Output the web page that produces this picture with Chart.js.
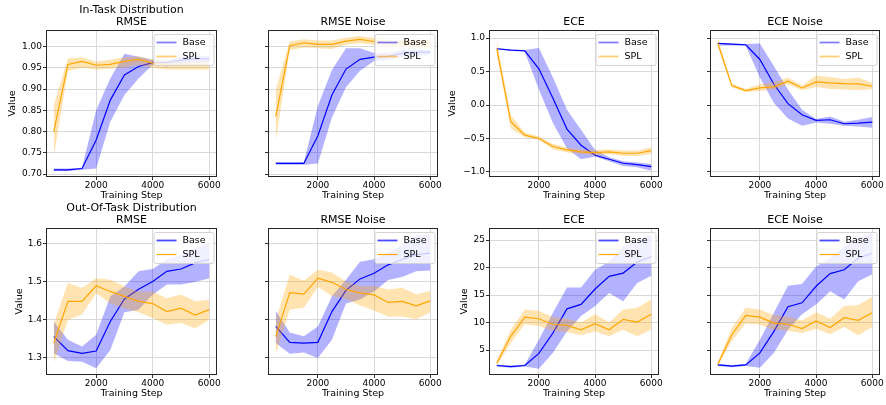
<!DOCTYPE html>
<html>
<head>
<meta charset="utf-8">
<script src="https://cdn.jsdelivr.net/npm/chart.js@4.4.1/dist/chart.umd.min.js"></script>
<style>
  html, body { margin: 0; padding: 0; background: #fff; overflow: hidden; }
  #wrap { position: relative; width: 886px; height: 405px; }
  #wrap canvas { position: absolute; }
</style>
</head>
<body>
<div id="wrap"></div>
<script>
// training steps (x) and tick labels
var steps = [500, 1000, 1500, 2000, 2500, 3000, 3500, 4000, 4500, 5000, 5500, 6000];
var xTicks = [2000, 4000, 6000];
var inRmseTicks = [0.70, 0.75, 0.80, 0.85, 0.90, 0.95, 1.00];
var inEceTicks = [-1.0, -0.5, 0.0, 0.5, 1.0];
var outRmseTicks = [1.3, 1.4, 1.5, 1.6];
var outEceTicks = [5, 10, 15, 20, 25];

// In-Task RMSE
var inRmseBase   = [0.710, 0.710, 0.713, 0.780, 0.874, 0.933, 0.953, 0.962, 0.962, 0.968, 0.971, 0.971];
var inRmseBaseLo = [0.707, 0.707, 0.710, 0.713, 0.823, 0.886, 0.925, 0.957, 0.953, 0.958, 0.962, 0.962];
var inRmseBaseHi = [0.713, 0.713, 0.715, 0.850, 0.925, 0.983, 0.976, 0.969, 0.967, 0.976, 0.978, 0.978];
var inRmseSpl    = [0.800, 0.958, 0.965, 0.956, 0.958, 0.965, 0.970, 0.961, 0.957, 0.957, 0.957, 0.957];
var inRmseSplLo  = [0.740, 0.943, 0.950, 0.946, 0.948, 0.950, 0.957, 0.950, 0.946, 0.946, 0.946, 0.946];
var inRmseSplHi  = [0.862, 0.972, 0.975, 0.965, 0.969, 0.975, 0.977, 0.969, 0.966, 0.966, 0.966, 0.966];

// In-Task RMSE Noise
var inRmseNBase   = [0.725, 0.725, 0.725, 0.790, 0.886, 0.947, 0.970, 0.975, 0.977, 0.984, 0.987, 0.987];
var inRmseNBaseLo = [0.722, 0.722, 0.722, 0.725, 0.833, 0.904, 0.943, 0.966, 0.968, 0.976, 0.979, 0.980];
var inRmseNBaseHi = [0.728, 0.728, 0.728, 0.860, 0.945, 0.996, 0.996, 0.985, 0.984, 0.992, 0.992, 0.992];
var inRmseNSpl    = [0.835, 1.002, 1.009, 1.005, 1.005, 1.013, 1.017, 1.012, 1.009, 1.009, 1.009, 1.009];
var inRmseNSplLo  = [0.776, 0.992, 0.998, 0.996, 0.994, 1.004, 1.008, 1.004, 0.998, 0.998, 0.998, 0.998];
var inRmseNSplHi  = [0.898, 1.012, 1.017, 1.014, 1.014, 1.021, 1.025, 1.020, 1.016, 1.016, 1.016, 1.016];

// In-Task ECE
var inEceBase   = [0.84, 0.82, 0.81, 0.54, 0.10, -0.36, -0.60, -0.75, -0.81, -0.87, -0.89, -0.92];
var inEceBaseLo = [0.83, 0.81, 0.79, 0.23, -0.27, -0.65, -0.81, -0.77, -0.84, -0.91, -0.93, -0.98];
var inEceBaseHi = [0.85, 0.83, 0.82, 0.85, 0.41, -0.07, -0.37, -0.67, -0.78, -0.84, -0.86, -0.88];
var inEceSpl    = [0.84, -0.25, -0.45, -0.50, -0.62, -0.67, -0.70, -0.71, -0.70, -0.72, -0.72, -0.68];
var inEceSplLo  = [0.76, -0.35, -0.48, -0.52, -0.66, -0.71, -0.73, -0.75, -0.73, -0.76, -0.76, -0.73];
var inEceSplHi  = [0.97, -0.15, -0.41, -0.47, -0.58, -0.64, -0.66, -0.67, -0.66, -0.68, -0.68, -0.63];

// In-Task ECE Noise
var inEceNBase   = [0.92, 0.91, 0.90, 0.68, 0.31, 0.02, -0.145, -0.23, -0.22, -0.28, -0.27, -0.255];
var inEceNBaseLo = [0.89, 0.89, 0.88, 0.41, 0.03, -0.20, -0.31, -0.26, -0.28, -0.31, -0.32, -0.34];
var inEceNBaseHi = [0.93, 0.92, 0.91, 0.92, 0.58, 0.23, -0.07, -0.21, -0.17, -0.25, -0.22, -0.18];
var inEceNSpl    = [0.92, 0.29, 0.215, 0.255, 0.27, 0.355, 0.255, 0.345, 0.33, 0.32, 0.315, 0.28];
var inEceNSplLo  = [0.88, 0.26, 0.19, 0.21, 0.23, 0.31, 0.22, 0.27, 0.24, 0.23, 0.22, 0.24];
var inEceNSplHi  = [1.02, 0.32, 0.24, 0.31, 0.34, 0.41, 0.29, 0.44, 0.42, 0.39, 0.41, 0.33];

// Out-Of-Task RMSE
var outRmseBase   = [1.356, 1.319, 1.312, 1.318, 1.396, 1.455, 1.481, 1.501, 1.528, 1.534, 1.550, 1.559];
var outRmseBaseLo = [1.312, 1.292, 1.290, 1.273, 1.321, 1.420, 1.427, 1.466, 1.493, 1.493, 1.500, 1.510];
var outRmseBaseHi = [1.396, 1.348, 1.330, 1.361, 1.462, 1.488, 1.528, 1.534, 1.559, 1.572, 1.590, 1.603];
var outRmseSpl    = [1.339, 1.449, 1.449, 1.490, 1.475, 1.462, 1.449, 1.443, 1.422, 1.431, 1.413, 1.427];
var outRmseSplLo  = [1.286, 1.400, 1.414, 1.470, 1.444, 1.430, 1.420, 1.405, 1.387, 1.392, 1.378, 1.400];
var outRmseSplHi  = [1.390, 1.497, 1.484, 1.510, 1.506, 1.488, 1.475, 1.475, 1.457, 1.467, 1.449, 1.453];

// Out-Of-Task RMSE Noise
var outRmseNBase   = [1.383, 1.341, 1.339, 1.341, 1.422, 1.478, 1.508, 1.523, 1.545, 1.559, 1.572, 1.576];
var outRmseNBaseLo = [1.339, 1.311, 1.314, 1.300, 1.348, 1.443, 1.454, 1.475, 1.505, 1.513, 1.528, 1.530];
var outRmseNBaseHi = [1.424, 1.367, 1.357, 1.383, 1.462, 1.506, 1.553, 1.560, 1.578, 1.596, 1.622, 1.626];
var outRmseNSpl    = [1.356, 1.472, 1.468, 1.510, 1.499, 1.480, 1.471, 1.466, 1.446, 1.449, 1.437, 1.450];
var outRmseNSplLo  = [1.310, 1.427, 1.432, 1.487, 1.463, 1.455, 1.438, 1.425, 1.409, 1.409, 1.402, 1.420];
var outRmseNSplHi  = [1.400, 1.519, 1.503, 1.532, 1.525, 1.501, 1.489, 1.489, 1.480, 1.485, 1.467, 1.477];

// Out-Of-Task ECE
var outEceBase   = [2.2, 2.0, 2.2, 4.4, 8.1, 12.5, 13.3, 16.1, 18.4, 19.0, 21.0, 22.0];
var outEceBaseLo = [2.0, 1.8, 2.0, 1.6, 4.5, 8.4, 11.2, 13.0, 15.4, 13.9, 17.2, 18.5];
var outEceBaseHi = [2.4, 2.2, 2.4, 6.9, 11.8, 16.4, 16.4, 19.6, 21.1, 23.9, 25.0, 26.0];
var outEceSpl    = [2.6, 7.5, 11.0, 10.7, 9.7, 9.5, 8.7, 9.8, 8.7, 10.6, 10.1, 11.5];
var outEceSplLo  = [2.1, 6.3, 9.7, 9.4, 8.5, 8.3, 7.7, 8.4, 7.5, 8.7, 7.5, 8.7];
var outEceSplHi  = [3.0, 8.7, 12.4, 12.1, 11.0, 10.7, 10.0, 11.5, 10.0, 12.4, 12.7, 14.2];

// Out-Of-Task ECE Noise
var outEceNBase   = [2.3, 2.1, 2.3, 4.5, 8.4, 12.9, 13.6, 16.6, 18.9, 19.6, 21.7, 22.6];
var outEceNBaseLo = [2.1, 1.9, 2.1, 1.8, 4.5, 8.7, 11.5, 13.3, 15.7, 14.2, 17.5, 18.8];
var outEceNBaseHi = [2.5, 2.3, 2.5, 6.9, 11.8, 16.7, 17.0, 20.2, 21.7, 23.9, 25.4, 26.3];
var outEceNSpl    = [2.4, 7.8, 11.3, 11.0, 9.9, 9.7, 8.9, 10.3, 9.1, 10.9, 10.4, 11.8];
var outEceNSplLo  = [2.1, 6.6, 9.9, 9.6, 8.7, 8.5, 8.1, 8.9, 7.9, 9.2, 7.7, 9.2];
var outEceNSplHi  = [2.7, 9.0, 12.7, 12.4, 11.4, 11.1, 10.4, 11.9, 10.7, 13.0, 13.2, 14.7];

Chart.defaults.font.family = "'DejaVu Sans', sans-serif";
Chart.defaults.color = '#000';

function pts(ys) {
  return steps.map(function (s, i) { return { x: s, y: ys[i] }; });
}

function fmt2(v) { return v.toFixed(2); }
function fmt1(v) { return v.toFixed(1).replace('-', '\u2212'); }
function fmt0(v) { return String(v); }

// black box round the plot area
var framePlugin = {
  id: 'frame',
  afterDatasetsDraw: function (chart) {
    var a = chart.chartArea, ctx = chart.ctx;
    ctx.save();
    ctx.strokeStyle = '#262626';
    ctx.lineWidth = 1;
    ctx.strokeRect(Math.round(a.left) + 0.5, Math.round(a.top) + 0.5,
      Math.round(a.right - a.left) - 1, Math.round(a.bottom - a.top) - 1);
    ctx.restore();
  }
};

// legend in the upper right corner of the plot area
var cornerLegend = {
  id: 'cornerLegend',
  afterDraw: function (chart) {
    var a = chart.chartArea, ctx = chart.ctx;
    var w = 60, h = 31;
    var x = a.right - 3.5 - w, y = a.top + 4;
    ctx.save();
    ctx.fillStyle = 'rgba(255,255,255,0.8)';
    ctx.strokeStyle = '#d4d4d4';
    ctx.lineWidth = 1;
    ctx.beginPath();
    ctx.roundRect(x + 0.5, y + 0.5, w, h, 2);
    ctx.fill();
    ctx.stroke();
    var row = 0;
    chart.data.datasets.forEach(function (ds) {
      if (!ds.inLegend) return;
      var ly = y + 8.5 + row * 14;
      ctx.strokeStyle = ds.legendColor;
      ctx.lineWidth = ds.legendWidth;
      ctx.beginPath();
      ctx.moveTo(x + 3, ly);
      ctx.lineTo(x + 23, ly);
      ctx.stroke();
      ctx.fillStyle = '#000';
      ctx.font = "9.5px 'DejaVu Sans', sans-serif";
      ctx.textBaseline = 'middle';
      ctx.fillText(ds.label, x + 29, ly);
      row++;
    });
    ctx.restore();
  }
};

function panel(p) {
  var cv = document.createElement('canvas');
  var w = 46 + p.plotW + 8, h = 207;
  cv.width = w;
  cv.height = h;
  cv.style.left = (p.plotLeft - 46) + 'px';
  cv.style.top = (p.plotTop - 30) + 'px';
  document.getElementById('wrap').appendChild(cv);

  var twoLines = Array.isArray(p.title);
  var topRow = p.plotTop < 100;

  var datasets = [
    { label: 'Base hi', data: pts(p.base[2]), fill: '+1', backgroundColor: 'rgba(0,0,255,0.3)',
      borderColor: 'rgba(0,0,0,0)', borderWidth: 1, pointRadius: 0, order: 4 },
    { label: 'Base lo', data: pts(p.base[1]), fill: false,
      borderColor: 'rgba(0,0,0,0)', borderWidth: 1, pointRadius: 0, order: 4 },
    { label: 'Base', data: pts(p.base[0]), fill: false, borderColor: '#0000ff', borderWidth: 1.2,
      pointRadius: 0, order: 3, inLegend: true,
      legendColor: topRow ? 'rgba(0,0,255,0.5)' : 'rgba(0,0,255,0.7)', legendWidth: 1.8 },
    { label: 'SPL hi', data: pts(p.spl[2]), fill: '+1', backgroundColor: 'rgba(255,165,0,0.3)',
      borderColor: 'rgba(0,0,0,0)', borderWidth: 1, pointRadius: 0, order: 2 },
    { label: 'SPL lo', data: pts(p.spl[1]), fill: false,
      borderColor: 'rgba(0,0,0,0)', borderWidth: 1, pointRadius: 0, order: 2 },
    { label: 'SPL', data: pts(p.spl[0]), fill: false, borderColor: '#ffa500', borderWidth: 1.2,
      pointRadius: 0, order: 1, inLegend: true,
      legendColor: topRow ? 'rgba(255,165,0,0.55)' : '#ffa500', legendWidth: topRow ? 1.8 : 1.2 }
  ];

  return new Chart(cv, {
    type: 'line',
    data: { datasets: datasets },
    plugins: [framePlugin, cornerLegend],
    options: {
      responsive: false,
      animation: false,
      devicePixelRatio: 1,
      layout: { padding: { left: 0, top: 0, right: 8, bottom: 0 } },
      elements: { line: { tension: 0 } },
      plugins: {
        legend: { display: false },
        tooltip: { enabled: false },
        title: {
          display: true,
          fullSize: false,
          text: p.title,
          color: '#000',
          font: { size: 11, weight: 'normal', lineHeight: 1.1 },
          padding: { top: twoLines ? 4 : 16, bottom: twoLines ? 1.8 : 1.9 }
        }
      },
      scales: {
        x: {
          type: 'linear',
          min: 225,
          max: 6275,
          afterBuildTicks: function (s) { s.ticks = xTicks.map(function (v) { return { value: v }; }); },
          afterFit: function (s) { s.height = 30; },
          border: { display: false },
          grid: { color: '#d9d9d9', lineWidth: 1, tickLength: 3, tickColor: '#333', tickWidth: 1 },
          ticks: { font: { size: 9 }, color: '#000', padding: 0, maxRotation: 0, autoSkip: false,
            callback: function (v) { return String(v); } },
          title: { display: true, text: 'Training Step', color: '#000', font: { size: 9.5 },
            padding: { top: 0, bottom: 5.3 } }
        },
        y: {
          min: p.yMin,
          max: p.yMax,
          afterBuildTicks: function (s) { s.ticks = p.yTicks.map(function (v) { return { value: v }; }); },
          afterFit: function (s) { s.width = 46; },
          border: { display: false },
          grid: { color: '#d9d9d9', lineWidth: 1, tickLength: 3, tickColor: '#333', tickWidth: 1 },
          ticks: { font: { size: 9 }, color: p.showY ? '#000' : 'rgba(0,0,0,0)', padding: 1,
            callback: p.fmt },
          title: { display: p.showY, text: 'Value', color: '#000', font: { size: 9.5 },
            padding: { top: p.yPad || 0, bottom: 0 } }
        }
      }
    }
  });
}

var colLeft = [46, 268, 489, 710];
var colWidth = [171, 170, 170, 170];

panel({ plotLeft: colLeft[0], plotW: colWidth[0], plotTop: 30, title: ['In-Task Distribution', 'RMSE'],
  yMin: 0.693, yMax: 1.039, yTicks: inRmseTicks, fmt: fmt2, showY: true, yPad: 7.3,
  base: [inRmseBase, inRmseBaseLo, inRmseBaseHi], spl: [inRmseSpl, inRmseSplLo, inRmseSplHi] });
panel({ plotLeft: colLeft[1], plotW: colWidth[1], plotTop: 30, title: 'RMSE Noise',
  yMin: 0.693, yMax: 1.039, yTicks: inRmseTicks, fmt: fmt2, showY: false,
  base: [inRmseNBase, inRmseNBaseLo, inRmseNBaseHi], spl: [inRmseNSpl, inRmseNSplLo, inRmseNSplHi] });
panel({ plotLeft: colLeft[2], plotW: colWidth[2], plotTop: 30, title: 'ECE',
  yMin: -1.075, yMax: 1.12, yTicks: inEceTicks, fmt: fmt1, showY: true, yPad: 4.3,
  base: [inEceBase, inEceBaseLo, inEceBaseHi], spl: [inEceSpl, inEceSplLo, inEceSplHi] });
panel({ plotLeft: colLeft[3], plotW: colWidth[3], plotTop: 30, title: 'ECE Noise',
  yMin: -1.075, yMax: 1.12, yTicks: inEceTicks, fmt: fmt1, showY: false,
  base: [inEceNBase, inEceNBaseLo, inEceNBaseHi], spl: [inEceNSpl, inEceNSplLo, inEceNSplHi] });

panel({ plotLeft: colLeft[0], plotW: colWidth[0], plotTop: 228, title: ['Out-Of-Task Distribution', 'RMSE'],
  yMin: 1.255, yMax: 1.642, yTicks: outRmseTicks, fmt: fmt1, showY: true, yPad: 14.3,
  base: [outRmseBase, outRmseBaseLo, outRmseBaseHi], spl: [outRmseSpl, outRmseSplLo, outRmseSplHi] });
panel({ plotLeft: colLeft[1], plotW: colWidth[1], plotTop: 228, title: 'RMSE Noise',
  yMin: 1.255, yMax: 1.642, yTicks: outRmseTicks, fmt: fmt1, showY: false,
  base: [outRmseNBase, outRmseNBaseLo, outRmseNBaseHi], spl: [outRmseNSpl, outRmseNSplLo, outRmseNSplHi] });
panel({ plotLeft: colLeft[2], plotW: colWidth[2], plotTop: 228, title: 'ECE',
  yMin: 0.47, yMax: 27.2, yTicks: outEceTicks, fmt: fmt0, showY: true, yPad: 16.3,
  base: [outEceBase, outEceBaseLo, outEceBaseHi], spl: [outEceSpl, outEceSplLo, outEceSplHi] });
panel({ plotLeft: colLeft[3], plotW: colWidth[3], plotTop: 228, title: 'ECE Noise',
  yMin: 0.47, yMax: 27.2, yTicks: outEceTicks, fmt: fmt0, showY: false,
  base: [outEceNBase, outEceNBaseLo, outEceNBaseHi], spl: [outEceNSpl, outEceNSplLo, outEceNSplHi] });
</script>
</body>
</html>
